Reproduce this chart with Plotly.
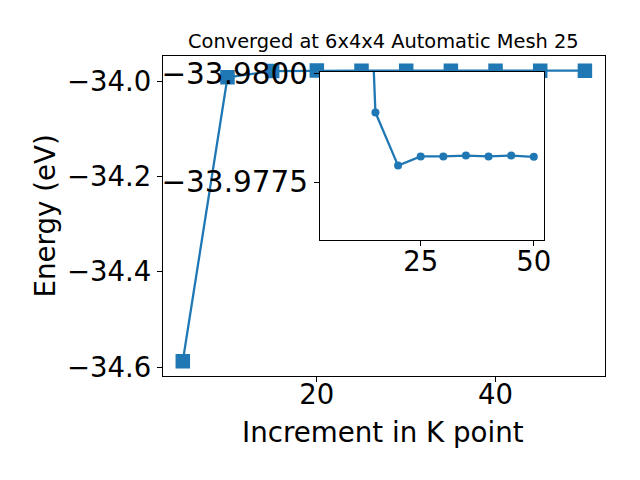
import plotly.graph_objects as go

# Data
kpoints = [5, 10, 15, 20, 25, 30, 35, 40, 45, 50]
energy = [-34.5875, -33.9922, -33.97910, -33.97788, -33.97809, -33.97809,
          -33.97811, -33.97809, -33.97811, -33.97808]

main_yticks = [-34.6, -34.4, -34.2, -34.0]
main_yticktext = ["\u221234.6", "\u221234.4", "\u221234.2", "\u221234.0"]
main_xticks = [20, 40]
inset_xticks = [25, 50]
inset_yticks = [-33.98, -33.9775]
inset_yticktext = ["\u221233.9800", "\u221233.9775"]

title = "Converged at 6x4x4 Automatic Mesh 25"
xlabel = "Increment in K point"
ylabel = "Energy (eV)"

BLUE = "#1f77b4"
FONT = "DejaVu Sans"
W, H = 640, 480
OFF = 8  # page body margin

# axes box positions (pixels in the final picture)
mx0, mx1, my0, my1 = 162.7, 605.0, 56.0, 375.7
ix0, ix1, iy0, iy1 = 320.0, 544.0, 72.0, 240.0

def px(x):
    return (x - OFF) / W

def py(y):
    return 1 - (y - OFF) / H

ymin, ymax = min(energy), max(energy)
yr = ymax - ymin
xr = max(kpoints) - min(kpoints)
xrange_ = [min(kpoints) - 0.05 * xr, max(kpoints) + 0.05 * xr]

fig = go.Figure()
fig.add_trace(go.Scatter(
    x=kpoints, y=energy, mode="lines+markers",
    line=dict(color=BLUE, width=2.3),
    marker=dict(symbol="square", size=14.5, color=BLUE),
    xaxis="x", yaxis="y", showlegend=False, cliponaxis=True,
))
fig.add_trace(go.Scatter(
    x=kpoints, y=energy, mode="lines+markers",
    line=dict(color=BLUE, width=2.3),
    marker=dict(symbol="circle", size=8, color=BLUE),
    xaxis="x2", yaxis="y2", showlegend=False, cliponaxis=True,
))

axcommon = dict(showline=True, linecolor="black", linewidth=1, mirror=True,
                ticks="outside", ticklen=5, tickwidth=1, tickcolor="black",
                showgrid=False, zeroline=False, automargin=False)

fig.update_layout(
    width=W, height=H, autosize=False,
    margin=dict(l=0, r=0, t=0, b=0, pad=0, autoexpand=False),
    paper_bgcolor="white", plot_bgcolor="white",
    font=dict(family=FONT, color="black"),
    xaxis=dict(domain=[px(mx0), px(mx1)], range=xrange_, tickvals=main_xticks,
               tickfont=dict(size=27.5), anchor="y", ticklabelstandoff=-11,
               **axcommon),
    yaxis=dict(domain=[py(my1), py(my0)],
               range=[ymin - 0.05 * yr, ymax + 0.05 * yr],
               tickvals=main_yticks, ticktext=main_yticktext,
               tickfont=dict(size=27.5), anchor="x", **axcommon),
    xaxis2=dict(domain=[px(ix0), px(ix1)], range=xrange_, tickvals=inset_xticks,
                tickfont=dict(size=27.5), anchor="y2", ticklabelstandoff=-8,
                **axcommon),
    yaxis2=dict(domain=[py(iy1), py(iy0)], range=[-33.97617, -33.98003],
                tickvals=inset_yticks, ticktext=inset_yticktext,
                tickfont=dict(size=29.5), anchor="x2", **axcommon),
)

fig.add_annotation(text=title, x=px((mx0 + mx1) / 2), y=py(41.5),
                   xref="paper", yref="paper", showarrow=False,
                   xanchor="center", yanchor="middle", font=dict(size=19.4))
fig.add_annotation(text=xlabel, x=px(382.5), y=py(432),
                   xref="paper", yref="paper", showarrow=False,
                   xanchor="center", yanchor="middle", font=dict(size=27.7))
fig.add_annotation(text=ylabel, x=px(45), y=py(216.5), textangle=-90,
                   xref="paper", yref="paper", showarrow=False,
                   xanchor="center", yanchor="middle", font=dict(size=27.7))

fig.write_html("out.html")
